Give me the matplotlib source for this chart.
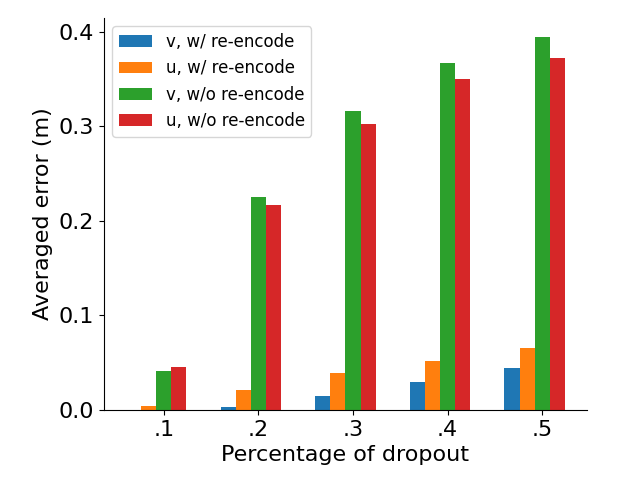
import numpy as np
import matplotlib.pyplot as plt

# dropout levels and averaged errors (m)
dropout = ['.1', '.2', '.3', '.4', '.5']
v_reenc = [0.0, 0.003, 0.015, 0.030, 0.0445]
u_reenc = [0.004, 0.021, 0.039, 0.052, 0.0656]
v_noreenc = [0.041, 0.225, 0.316, 0.367, 0.395]
u_noreenc = [0.0455, 0.217, 0.303, 0.350, 0.372]

labels = ['v, w/ re-encode', 'u, w/ re-encode', 'v, w/o re-encode', 'u, w/o re-encode']
series = [v_reenc, u_reenc, v_noreenc, u_noreenc]

x = np.arange(1, len(dropout) + 1)
w = 0.16

fig, ax = plt.subplots(figsize=(6.4, 4.8), dpi=100)
for k, (vals, lab) in enumerate(zip(series, labels)):
    ax.bar(x + (k - 2) * w, vals, w, label=lab)

ax.set_xticks(x)
ax.set_xticklabels(dropout)
ax.tick_params(labelsize=16)
ax.set_xlabel('Percentage of dropout', fontsize=16)
ax.set_ylabel('Averaged error (m)', fontsize=16)
ax.set_yticks([0.0, 0.1, 0.2, 0.3, 0.4])
ax.spines['top'].set_visible(False)
ax.spines['right'].set_visible(False)
ax.legend(loc='upper left', fontsize=12)

fig.subplots_adjust(left=0.1625, right=0.917, bottom=0.146, top=0.9625)
fig.savefig('out.png', dpi=100)
